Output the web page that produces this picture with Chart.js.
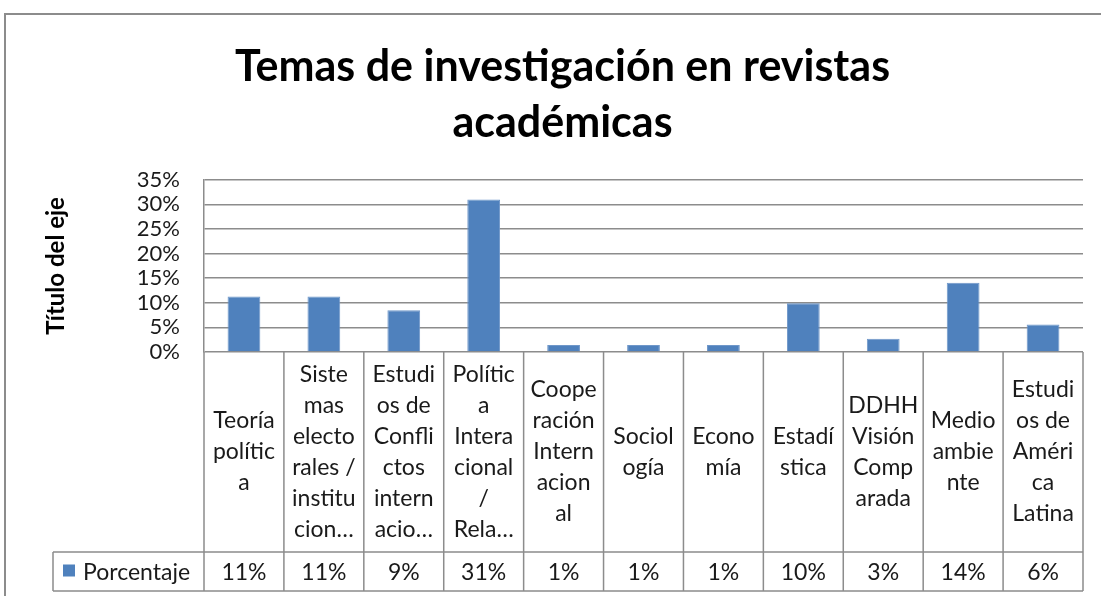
<!DOCTYPE html>
<html>
<head>
<meta charset="utf-8">
<script src="https://cdn.jsdelivr.net/npm/chart.js@4.4.1/dist/chart.umd.min.js"></script>
<style>
  html, body { margin: 0; padding: 0; background: #fff; overflow: hidden; }
  #wrap { position: relative; width: 1101px; height: 596px; }
  #frame { position: absolute; left: 4px; top: 13px; width: 1130px; height: 620px; border-left: 2px solid #8c8c8c; border-top: 2px solid #8c8c8c; }
  #chart { position: absolute; left: 0; top: 0; }
</style>
</head>
<body>
<div id="wrap">
  <div id="frame"></div>
  <canvas id="chart" width="1101" height="596"></canvas>
</div>
<script>
// categories as they are wrapped in the data table
const categoryLines = [
  ['Teoría', 'polític', 'a'],
  ['Siste', 'mas', 'electo', 'rales /', 'institu', 'cion…'],
  ['Estudi', 'os de', 'Confli', 'ctos', 'intern', 'acio…'],
  ['Polític', 'a', 'Intera', 'cional', '/', 'Rela…'],
  ['Coope', 'ración', 'Intern', 'acion', 'al'],
  ['Sociol', 'ogía'],
  ['Econo', 'mía'],
  ['Estadí', 'stica'],
  ['DDHH', 'Visión', 'Comp', 'arada'],
  ['Medio', 'ambie', 'nte'],
  ['Estudi', 'os de', 'Améri', 'ca', 'Latina']
];
const seriesName = 'Porcentaje';
const porcentaje = [11.3, 11.3, 8.5, 31.0, 1.4, 1.4, 1.4, 9.9, 2.7, 14.1, 5.6];
const valueLabels = ['11%', '11%', '9%', '31%', '1%', '1%', '1%', '10%', '3%', '14%', '6%'];
const titleLines = ['Temas de investigación en revistas', 'académicas'];
const yAxisTitle = 'Título del eje';

const barColor = '#4F81BD';
const lineColor = '#8c8c8c';
const textColor = '#1a1a1a';
const FONT = 'Lato, "Open Sans", sans-serif';

// draws the data table under the plot (category cells + value row)
const dataTablePlugin = {
  id: 'dataTable',
  afterDraw(chart) {
    const { ctx, chartArea, scales: { x } } = chart;
    const n = categoryLines.length;
    const colW = (x.right - x.left) / n;
    const top = chartArea.bottom;
    const rowTop = top + 200;
    const rowBottom = rowTop + 39;
    const legendLeft = 53;

    ctx.save();
    ctx.strokeStyle = lineColor;
    ctx.lineWidth = 1.5;
    ctx.beginPath();
    for (let i = 0; i <= n; i++) {
      const px = x.left + i * colW;
      ctx.moveTo(px, top);
      ctx.lineTo(px, rowBottom);
    }
    ctx.moveTo(legendLeft, rowTop); ctx.lineTo(x.right, rowTop);
    ctx.moveTo(legendLeft, rowBottom); ctx.lineTo(x.right, rowBottom);
    ctx.moveTo(legendLeft, rowTop); ctx.lineTo(legendLeft, rowBottom);
    ctx.stroke();

    ctx.fillStyle = textColor;
    ctx.font = '23px ' + FONT;
    ctx.textAlign = 'center';
    ctx.textBaseline = 'middle';
    const lh = 31;
    const mid = (top + rowTop) / 2;
    categoryLines.forEach((lines, i) => {
      const cx = x.getPixelForValue(i);
      const y0 = mid - (lines.length - 1) * lh / 2;
      lines.forEach((t, j) => ctx.fillText(t, cx, y0 + j * lh));
      ctx.fillText(valueLabels[i], cx, (rowTop + rowBottom) / 2 + 1);
    });

    // legend key
    ctx.fillStyle = barColor;
    ctx.fillRect(63, (rowTop + rowBottom) / 2 - 7, 12, 12);
    ctx.fillStyle = textColor;
    ctx.textAlign = 'left';
    ctx.fillText(seriesName, 83, (rowTop + rowBottom) / 2 + 1);
    ctx.restore();
  }
};

const ctx = document.getElementById('chart');
new Chart(ctx, {
  type: 'bar',
  data: {
    labels: categoryLines.map(l => l.join(' ')),
    datasets: [{
      label: seriesName,
      data: porcentaje,
      backgroundColor: barColor,
      borderColor: '#6f97c9',
      borderWidth: 1,
      categoryPercentage: 1,
      barPercentage: 0.41
    }]
  },
  options: {
    responsive: false,
    animation: false,
    layout: { padding: { left: 42, right: 18, top: 0, bottom: 224 } },
    scales: {
      x: {
        afterFit(scale) { scale.height = 20; },
        grid: { display: false },
        border: { display: false },
        ticks: { display: false }
      },
      y: {
        min: 0,
        max: 35,
        afterFit(scale) { scale.width = 162; },
        ticks: {
          stepSize: 5,
          autoSkip: false,
          padding: 24,
          color: textColor,
          font: { family: FONT, size: 22, lineHeight: 1 },
          callback: (v) => v + '%'
        },
        grid: { color: lineColor, lineWidth: 1.5, drawTicks: false },
        border: { color: lineColor, width: 1.5 },
        title: {
          display: true,
          text: yAxisTitle,
          color: '#000',
          font: { family: FONT, size: 24, weight: 'bold', lineHeight: 1.2 },
          padding: { top: 0, bottom: 0 }
        }
      }
    },
    plugins: {
      legend: { display: false },
      tooltip: { enabled: false },
      title: {
        display: true,
        text: titleLines,
        color: '#000',
        font: { family: FONT, size: 43, weight: 'bold', lineHeight: 1.3 },
        padding: { top: 39, bottom: 29 }
      }
    }
  },
  plugins: [dataTablePlugin]
});
</script>
</body>
</html>
